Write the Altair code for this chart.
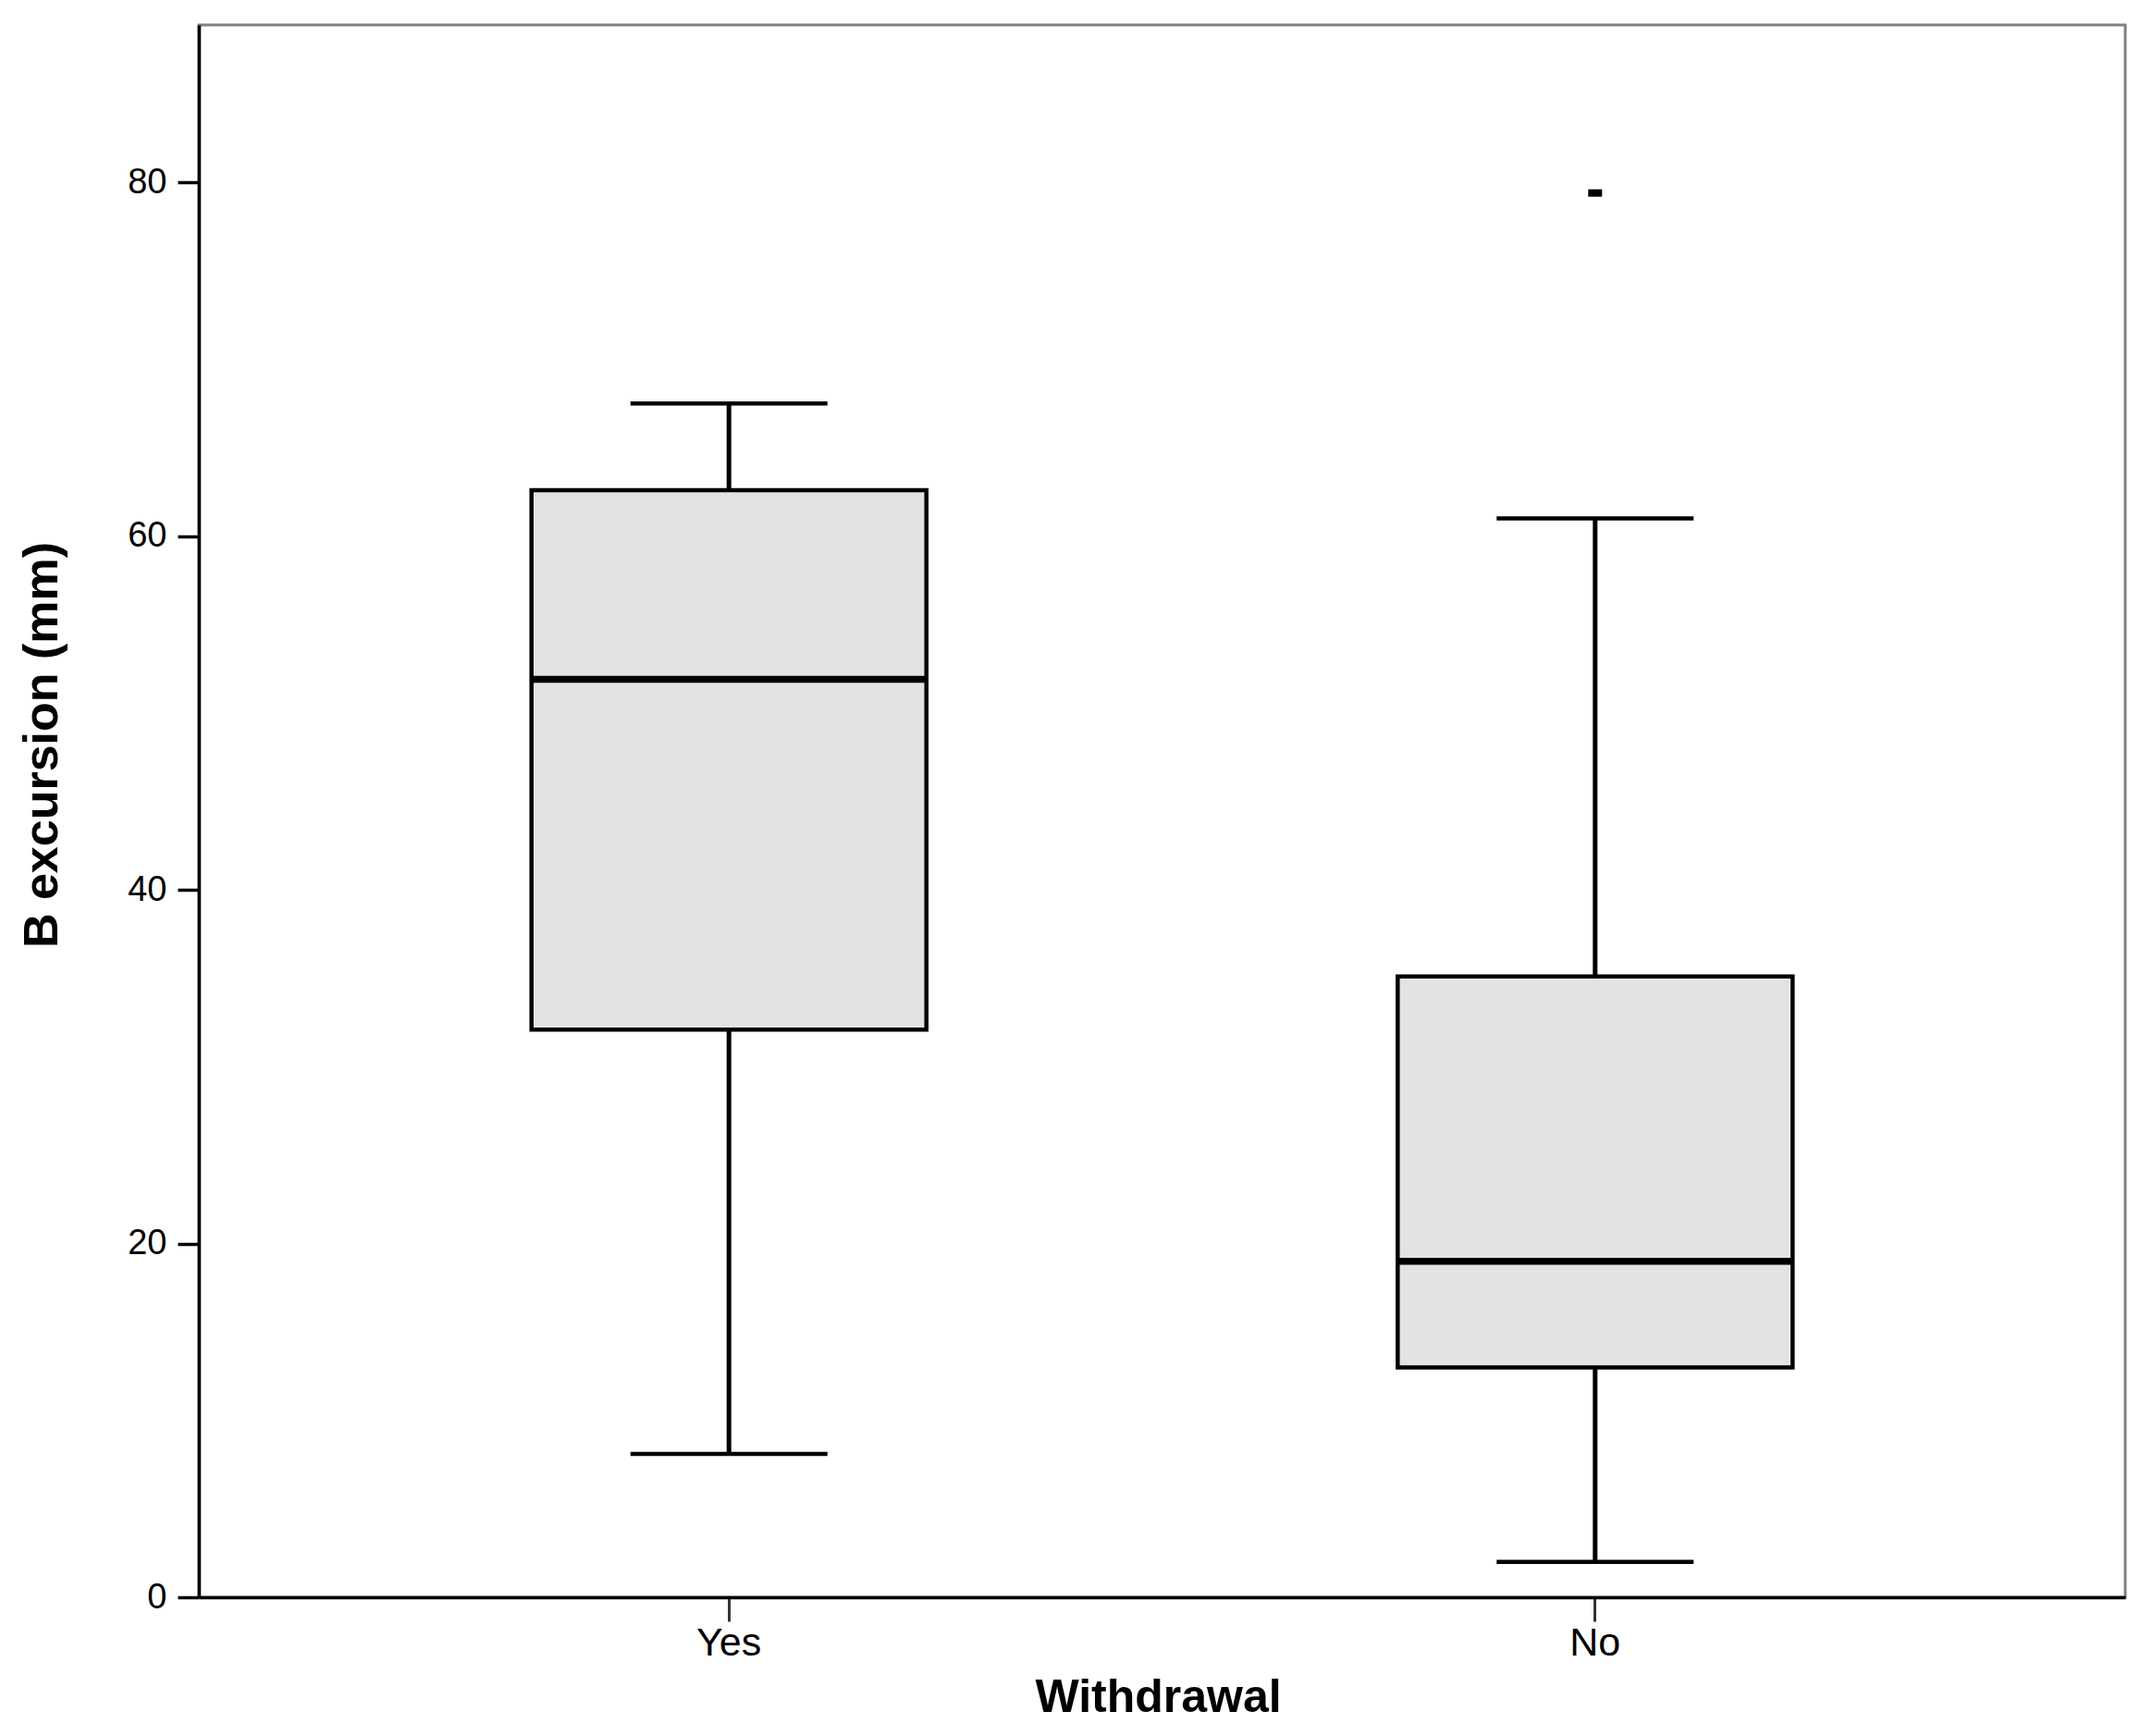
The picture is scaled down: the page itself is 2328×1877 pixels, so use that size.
import altair as alt
import pandas as pd

# ---- data ----
groups = ["Yes", "No"]
whisker_low = [8.1, 2.0]
q1 = [32.1, 13.0]
median = [51.9, 19.0]
q3 = [62.6, 35.1]
whisker_high = [67.5, 61.0]

outlier_group = ["No"]
outlier_value = [79.4]

y_ticks = [0, 20, 40, 60, 80]

df = pd.DataFrame({
    "Withdrawal": groups,
    "low": whisker_low,
    "q1": q1,
    "median": median,
    "q3": q3,
    "high": whisker_high,
})
df_out = pd.DataFrame({"Withdrawal": outlier_group, "value": outlier_value})

FONT = "Liberation Sans"
W, H = 2083, 1700
BOX_W = 427
CAP_W = 213

x_enc = alt.X(
    "Withdrawal:N",
    sort=groups,
    scale=alt.Scale(paddingInner=0, paddingOuter=0.112),
    axis=alt.Axis(
        title="Withdrawal",
        labelAngle=0,
        labelFont=FONT,
        labelFontSize=43,
        labelColor="black",
        labelPadding=2,
        tickSize=26,
        tickWidth=3,
        tickColor="#333333",
        domainColor="black",
        domainWidth=3.5,
        titleFont=FONT,
        titleFontSize=50,
        titleFontWeight="bold",
        titleColor="black",
        titleBaseline="alphabetic",
        titleY=123,
        titleX=1037,
    ),
)

y_scale = alt.Scale(domain=[0, 88.9], nice=False, zero=True)
y_axis = alt.Axis(
    title="B excursion (mm)",
    values=y_ticks,
    grid=False,
    labelFont=FONT,
    labelFontSize=38,
    labelColor="black",
    labelPadding=12,
    tickSize=23,
    tickWidth=3.5,
    tickColor="black",
    domainColor="black",
    domainWidth=3.5,
    titleFont=FONT,
    titleFontSize=52,
    titleFontWeight="bold",
    titleColor="black",
    titleAngle=270,
    titleAlign="center",
    titleBaseline="alphabetic",
    titleX=-154,
    titleY=778,
)

base = alt.Chart(df)

whisker = base.mark_rule(color="black", strokeWidth=5).encode(
    x=x_enc,
    y=alt.Y("low:Q", scale=y_scale, axis=y_axis),
    y2="high:Q",
)

cap_low = base.mark_tick(color="black", size=CAP_W, thickness=4.5, opacity=1).encode(
    x=alt.X("Withdrawal:N", sort=groups),
    y=alt.Y("low:Q"),
)
cap_high = base.mark_tick(color="black", size=CAP_W, thickness=4.5, opacity=1).encode(
    x=alt.X("Withdrawal:N", sort=groups),
    y=alt.Y("high:Q"),
)

box = base.mark_bar(
    size=BOX_W, fill="#e3e3e3", stroke="black", strokeWidth=4.5, opacity=1
).encode(
    x=alt.X("Withdrawal:N", sort=groups),
    y=alt.Y("q1:Q"),
    y2="q3:Q",
)

med = base.mark_tick(color="black", size=BOX_W, thickness=7.5, opacity=1).encode(
    x=alt.X("Withdrawal:N", sort=groups),
    y=alt.Y("median:Q"),
)

outlier = alt.Chart(df_out).mark_tick(
    color="black", size=15, thickness=8, opacity=1
).encode(
    x=alt.X("Withdrawal:N", sort=groups),
    y=alt.Y("value:Q"),
)

chart = (
    alt.layer(whisker, cap_low, cap_high, box, med, outlier)
    .properties(
        width=W,
        height=H,
        background="white",
        padding={"left": 207, "top": 19, "right": 20, "bottom": 142},
        autosize=alt.AutoSizeParams(type="none"),
    )
    .configure_view(stroke="#808080", strokeWidth=3)
)

chart.save("out.html", embed_options={"renderer": "svg", "actions": False})
